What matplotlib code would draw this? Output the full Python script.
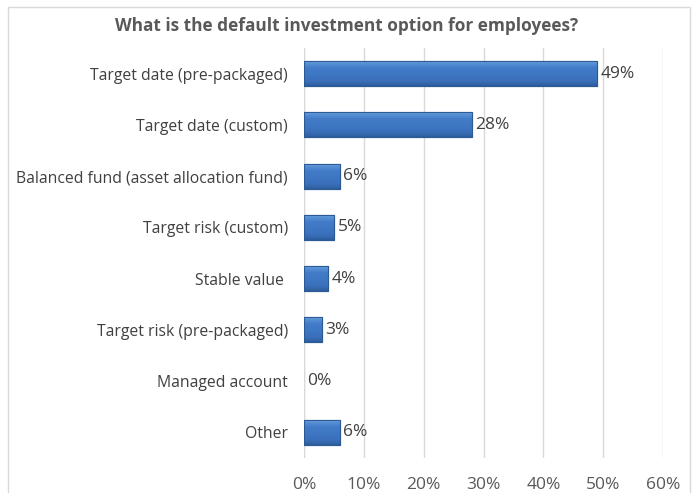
import numpy as np
import matplotlib
matplotlib.use("Agg")
import matplotlib.pyplot as plt
from matplotlib.colors import LinearSegmentedColormap
from matplotlib.patches import Rectangle

categories = [
    "Target date (pre-packaged)",
    "Target date (custom)",
    "Balanced fund (asset allocation fund)",
    "Target risk (custom)",
    "Stable value ",
    "Target risk (pre-packaged)",
    "Managed account",
    "Other",
]
values = [49, 28, 6, 5, 4, 3, 0, 6]
xticks = [0, 10, 20, 30, 40, 50, 60]
title = "What is the default investment option for employees?"

plt.rcParams["font.family"] = ["Open Sans", "DejaVu Sans"]
TEXT = "#595959"

fig = plt.figure(figsize=(6.96, 4.93), dpi=100)
fig.patch.set_facecolor("white")

# chart frame
fig.add_artist(Rectangle((8 / 696, -0.05), 682 / 696, (493 - 7) / 493 + 0.05,
                         transform=fig.transFigure, fill=False,
                         edgecolor="#d9d9d9", linewidth=1.0))

ax = fig.add_axes([304 / 696, 35 / 493, 359 / 696, 410 / 493])
y = np.arange(len(categories))
bars = ax.barh(y, values, height=0.49, color="#3f75bf",
               edgecolor="#2c5a94", linewidth=0.8, zorder=3)

# vertical shading on each bar: light top edge, darker bottom
cmap = LinearSegmentedColormap.from_list(
    "bevel", [(0.0, "#8dbbea"), (0.1, "#5a93d6"), (0.3, "#427cc8"),
              (0.8, "#3b71bb"), (1.0, "#2d5e9e")])
grad = np.linspace(1, 0, 64).reshape(-1, 1)
for b in bars:
    if b.get_width() <= 0:
        b.set_visible(False)
        continue
    x0, y0 = b.get_x(), b.get_y()
    w, h = b.get_width(), b.get_height()
    im = ax.imshow(grad, cmap=cmap, aspect="auto", origin="upper",
                   extent=(x0, x0 + w, y0, y0 + h), zorder=3.5,
                   interpolation="bilinear")
    im.set_clip_path(b)
    ax.add_patch(Rectangle((x0, y0), w, h, fill=False,
                           edgecolor="#2c5a94", linewidth=0.8, zorder=4))

for yi, v in zip(y, values):
    ax.text(v + 0.6, yi, f"{v}%", va="center", ha="left",
            fontsize=12.5, color="#404040", zorder=5)

ax.set_xlim(0, 60)
ax.set_ylim(len(categories) - 0.5, -0.5)
ax.set_xticks(xticks)
ax.set_xticklabels([f"{t}%" for t in xticks], fontsize=12.5, color=TEXT)
ax.set_yticks(y)
ax.set_yticklabels(categories, fontsize=11.3, color="#404040")
ax.tick_params(axis="both", length=0)
ax.tick_params(axis="x", pad=14)
ax.tick_params(axis="y", pad=11.5)
ax.grid(axis="x", color="#d9d9d9", linewidth=1.0, zorder=0)
ax.set_axisbelow(True)
for s in ax.spines.values():
    s.set_visible(False)
ax.axvline(0, color="#d9d9d9", linewidth=1.0, zorder=1)

fig.text(347 / 696, 1 - 26 / 493, title, ha="center", va="center",
         fontsize=12.4, fontweight="bold", color=TEXT)

fig.savefig("out.png", dpi=100)
